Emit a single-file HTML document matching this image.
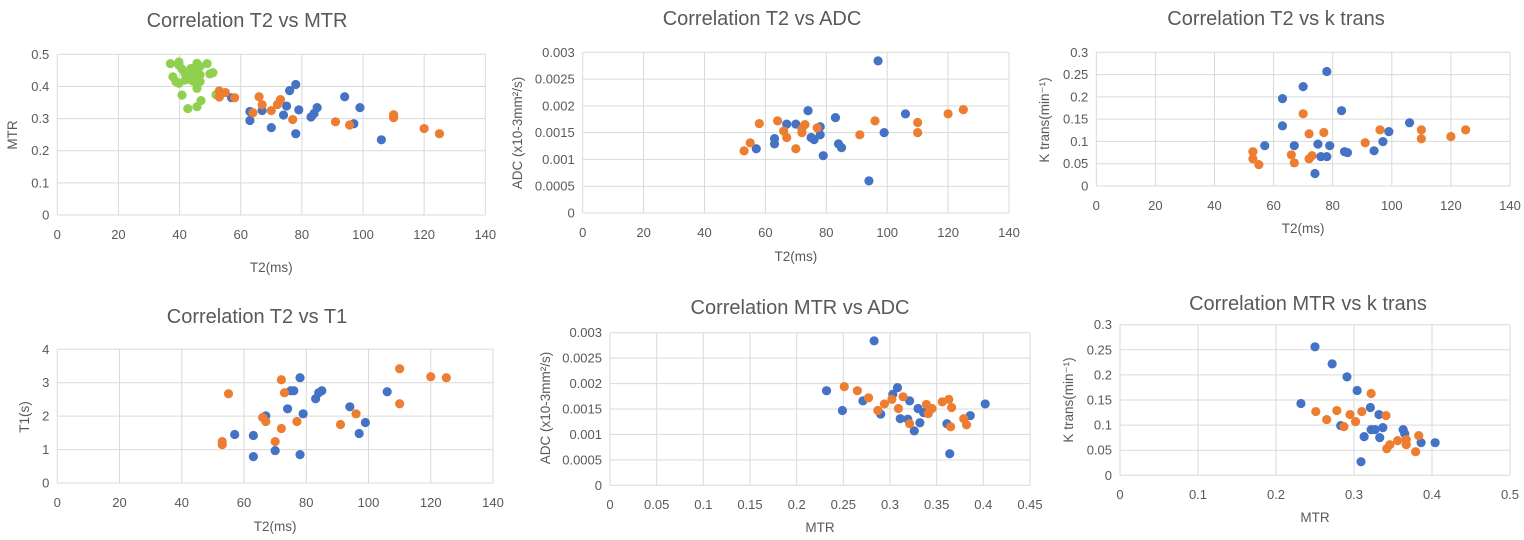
<!DOCTYPE html>
<html><head><meta charset="utf-8"><style>
html,body{margin:0;padding:0;background:#fff;}
svg{display:block;font-family:"Liberation Sans",sans-serif;}
</style></head><body>
<svg id="fig" width="1524" height="540" viewBox="0 0 1524 540"></svg>
<script>
// ---- Chart 1: T2 vs MTR ----
const c1BlueX=[57,63,63,67,70,75,74,76,78,78,79,83,84,85,94,97,99,106];
const c1BlueY=[0.365,0.322,0.294,0.325,0.272,0.339,0.311,0.387,0.406,0.253,0.327,0.305,0.316,0.334,0.368,0.284,0.334,0.234];
const c1OrangeX=[53,53,55,58,64,66,67,70,72,73,77,91,95.6,110,110,120,125];
const c1OrangeY=[0.386,0.367,0.381,0.365,0.318,0.368,0.343,0.325,0.344,0.359,0.297,0.29,0.28,0.312,0.303,0.269,0.253];
const c1GreenX=[37,39.8,39.8,37.8,38.8,39.8,40.8,40.8,41.8,42.7,43.7,43.7,44.7,44.7,45.7,45.7,45.7,46.7,46.7,47,42.7,45.7,49,49.9,50.9,51.9,41.8,43.7,46.7,44.7];
const c1GreenY=[0.471,0.476,0.466,0.43,0.415,0.41,0.454,0.373,0.44,0.425,0.456,0.42,0.415,0.446,0.472,0.394,0.43,0.462,0.436,0.356,0.331,0.337,0.471,0.439,0.443,0.374,0.42,0.436,0.415,0.432];
// ---- Chart 2: T2 vs ADC ----
const c2BlueX=[57,63,63,67,70,74,75,76,78,78,79,83,84,85,94,97,99,106];
const c2BlueY=[0.0012,0.00139,0.00129,0.00166,0.00166,0.00191,0.00141,0.00137,0.00161,0.00146,0.00107,0.00178,0.00129,0.00122,0.0006,0.00284,0.0015,0.00185];
const c2OrangeX=[53,55,58,64,66,67,70,72,72,73,77,91,96,110,110,120,125];
const c2OrangeY=[0.00116,0.00131,0.00167,0.00172,0.00153,0.00141,0.0012,0.0015,0.00157,0.00165,0.00159,0.00146,0.00172,0.00169,0.0015,0.00185,0.00193];
// ---- Chart 3: T2 vs k trans ----
const c3BlueX=[57,63,63,67,70,74,75,76,78,78,79,83,84,85,94,97,99,106];
const c3BlueY=[0.0905,0.196,0.135,0.0905,0.223,0.028,0.094,0.066,0.066,0.257,0.0905,0.169,0.077,0.075,0.079,0.0995,0.122,0.142];
const c3OrangeX=[53,53,55,66,67,70,72,72,73,77,91,96,110,110,120,125];
const c3OrangeY=[0.077,0.061,0.048,0.07,0.052,0.162,0.117,0.061,0.068,0.12,0.097,0.126,0.126,0.106,0.111,0.126];
// ---- Chart 4: T2 vs T1 ----
const c4BlueX=[57,63,63,67,70,74,75,76,78,78,79,83,84,85,94,97,99,106];
const c4BlueY=[1.45,1.42,0.79,2.01,0.97,2.22,2.76,2.76,3.15,0.85,2.07,2.52,2.7,2.76,2.28,1.48,1.81,2.73];
const c4OrangeX=[53,53,55,66,67,70,72,72,73,77,91,96,110,110,120,125];
const c4OrangeY=[1.24,1.15,2.67,1.96,1.84,1.24,3.09,1.63,2.7,1.84,1.75,2.07,3.42,2.37,3.18,3.15];
// ---- Chart 5: MTR vs ADC ----
const c5BlueX=[0.232,0.249,0.271,0.283,0.29,0.303,0.308,0.311,0.319,0.321,0.326,0.33,0.332,0.336,0.361,0.364,0.386,0.402];
const c5BlueY=[0.00186,0.00147,0.00166,0.00284,0.0014,0.00179,0.00192,0.00131,0.0013,0.00166,0.00107,0.00151,0.00123,0.00143,0.00121,0.00062,0.00137,0.0016];
const c5OrangeX=[0.251,0.265,0.277,0.287,0.294,0.302,0.309,0.314,0.321,0.339,0.341,0.345,0.356,0.363,0.366,0.365,0.379,0.382];
const c5OrangeY=[0.00194,0.00186,0.00172,0.00147,0.0016,0.00169,0.00151,0.00174,0.00121,0.00159,0.00141,0.00151,0.00164,0.00169,0.00153,0.00115,0.00131,0.00119];
// ---- Chart 6: MTR vs k trans ----
const c6BlueX=[0.232,0.25,0.272,0.283,0.291,0.304,0.309,0.313,0.321,0.322,0.327,0.332,0.333,0.337,0.363,0.365,0.386,0.404];
const c6BlueY=[0.143,0.256,0.222,0.099,0.196,0.169,0.027,0.077,0.135,0.091,0.091,0.121,0.075,0.095,0.091,0.083,0.065,0.065];
const c6OrangeX=[0.251,0.265,0.278,0.287,0.295,0.302,0.31,0.322,0.341,0.342,0.346,0.356,0.367,0.367,0.379,0.383];
const c6OrangeY=[0.127,0.111,0.129,0.097,0.121,0.107,0.127,0.163,0.119,0.053,0.061,0.069,0.071,0.061,0.047,0.079];
// ---- tick labels ----
const t2Ticks=["0","20","40","60","80","100","120","140"];
const mtrTicksY=["0","0.1","0.2","0.3","0.4","0.5"];
const adcTicks=["0","0.0005","0.001","0.0015","0.002","0.0025","0.003"];
const ktransTicks=["0","0.05","0.1","0.15","0.2","0.25","0.3"];
const t1Ticks=["0","1","2","3","4"];
const mtrTicksX5=["0","0.05","0.1","0.15","0.2","0.25","0.3","0.35","0.4","0.45"];
const mtrTicksX6=["0","0.1","0.2","0.3","0.4","0.5"];

const NS="http://www.w3.org/2000/svg";
const svg=document.getElementById('fig');
const BLUE="#4472C4",ORANGE="#ED7D31",GREEN="#8FD14F",TXT="#595959",GRID="#d9d9d9";
function mk(tag,attrs,parent){const e=document.createElementNS(NS,tag);for(const k in attrs)e.setAttribute(k,attrs[k]);(parent||svg).appendChild(e);return e;}

function chart(cfg){
  const g=mk('g',{});
  
  
  const xs=v=>cfg.L+(v)/(cfg.xMax)*(cfg.R-cfg.L);
  const ys=v=>cfg.B-(v)/(cfg.yMax)*(cfg.B-cfg.T);
  const t=mk('text',{x:cfg.tx,y:cfg.ty,'text-anchor':'middle','font-size':20,fill:TXT},g);
  t.textContent=cfg.title;
  
  
  cfg.xTicks.forEach((lab,i)=>{
    const v=parseFloat(lab);const x=xs(v);
    const ln=mk('line',{x1:x,x2:x,y1:cfg.T,y2:cfg.B,stroke:GRID,'stroke-width':1},g);
    
    
    const tl=mk('text',{x:x,y:cfg.xTickY,'text-anchor':'middle','font-size':13,fill:TXT},g);
    tl.textContent=lab;
    
    
  });
  cfg.yTicks.forEach((lab,i)=>{
    const v=parseFloat(lab);const y=ys(v);
    const ln=mk('line',{x1:cfg.L,x2:cfg.R,y1:y,y2:y,stroke:GRID,'stroke-width':1},g);
    
    
    const tl=mk('text',{x:cfg.L-8,y:y+4.5,'text-anchor':'end','font-size':13,fill:TXT},g);
    tl.textContent=lab;
    
    
  });
  const xa=mk('text',{x:(cfg.L+cfg.R)/2,y:cfg.xTitleY,'text-anchor':'middle','font-size':13.5,fill:TXT},g);
  xa.textContent=cfg.xTitle;
  
  
  const ya=mk('text',{x:0,y:0,'text-anchor':'middle','font-size':13.5,fill:TXT,transform:`translate(${cfg.yTitleX},${cfg.yTitleC}) rotate(-90)`},g);
  ya.textContent=cfg.yTitle;
  
  
  cfg.series.forEach(s=>{
    s.x.forEach((xv,i)=>{
      const c=mk('circle',{cx:xs(xv),cy:ys(s.y[i]),r:4.6,fill:s.color},g);
      
      
    });
  });
}

chart({name:'chart-t2-vs-mtr',title:'Correlation T2 vs MTR',tx:247,ty:27,L:57.3,R:485.3,T:54.3,B:215,xMax:140,yMax:0.5,
  xTicks:t2Ticks,yTicks:mtrTicksY,xTickY:239,xTitle:'T2(ms)',xTitleY:272,yTitle:'MTR',yTitleX:17,yTitleC:135,
  series:[{name:'green',color:GREEN,x:c1GreenX,y:c1GreenY},{name:'blue',color:BLUE,x:c1BlueX,y:c1BlueY},{name:'orange',color:ORANGE,x:c1OrangeX,y:c1OrangeY}]});
chart({name:'chart-t2-vs-adc',title:'Correlation T2 vs ADC',tx:762,ty:25,L:582.7,R:1009,T:52.3,B:213,xMax:140,yMax:0.003,
  xTicks:t2Ticks,yTicks:adcTicks,xTickY:237,xTitle:'T2(ms)',xTitleY:261,yTitle:'ADC (x10-3mm²/s)',yTitleX:522,yTitleC:133,
  series:[{name:'blue',color:BLUE,x:c2BlueX,y:c2BlueY},{name:'orange',color:ORANGE,x:c2OrangeX,y:c2OrangeY}]});
chart({name:'chart-t2-vs-ktrans',title:'Correlation T2 vs k trans',tx:1276,ty:25,L:1096.3,R:1510,T:52.3,B:186,xMax:140,yMax:0.3,
  xTicks:t2Ticks,yTicks:ktransTicks,xTickY:210,xTitle:'T2(ms)',xTitleY:233,yTitle:'K trans(min⁻¹)',yTitleX:1049,yTitleC:120,
  series:[{name:'blue',color:BLUE,x:c3BlueX,y:c3BlueY},{name:'orange',color:ORANGE,x:c3OrangeX,y:c3OrangeY}]});
chart({name:'chart-t2-vs-t1',title:'Correlation T2 vs T1',tx:257,ty:323,L:57.3,R:493,T:349.3,B:483,xMax:140,yMax:4,
  xTicks:t2Ticks,yTicks:t1Ticks,xTickY:507,xTitle:'T2(ms)',xTitleY:531,yTitle:'T1(s)',yTitleX:29,yTitleC:417,
  series:[{name:'blue',color:BLUE,x:c4BlueX,y:c4BlueY},{name:'orange',color:ORANGE,x:c4OrangeX,y:c4OrangeY}]});
chart({name:'chart-mtr-vs-adc',title:'Correlation MTR vs ADC',tx:800,ty:314,L:610,R:1030,T:332.7,B:485.3,xMax:0.45,yMax:0.003,
  xTicks:mtrTicksX5,yTicks:adcTicks,xTickY:509,xTitle:'MTR',xTitleY:532,yTitle:'ADC (x10-3mm²/s)',yTitleX:550,yTitleC:408,
  series:[{name:'blue',color:BLUE,x:c5BlueX,y:c5BlueY},{name:'orange',color:ORANGE,x:c5OrangeX,y:c5OrangeY}]});
chart({name:'chart-mtr-vs-ktrans',title:'Correlation MTR vs k trans',tx:1308,ty:310,L:1120,R:1510,T:324.7,B:475.3,xMax:0.5,yMax:0.3,
  xTicks:mtrTicksX6,yTicks:ktransTicks,xTickY:499,xTitle:'MTR',xTitleY:522,yTitle:'K trans(min⁻¹)',yTitleX:1073,yTitleC:400,
  series:[{name:'blue',color:BLUE,x:c6BlueX,y:c6BlueY},{name:'orange',color:ORANGE,x:c6OrangeX,y:c6OrangeY}]});
</script>
</body></html>
